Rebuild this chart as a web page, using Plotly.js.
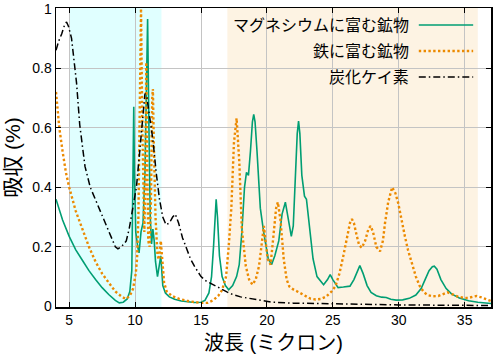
<!DOCTYPE html>
<html>
<head>
<meta charset="utf-8">
<script src="https://cdn.plot.ly/plotly-3.0.1.min.js"></script>
<style>html,body{margin:0;padding:0;background:#fff;}#chart{width:493px;height:358px;}</style>
</head>
<body>
<div id="chart"></div>
<script>
// Series names
const seriesNames = ["マグネシウムに富む鉱物", "鉄に富む鉱物", "炭化ケイ素"];

// Magnesium-rich mineral
const mgX = [4,4.5,5,5.5,6,6.5,7,7.5,8,8.5,8.8,9.1,9.4,9.6,9.75,9.85,9.9,9.95,10.05,10.2,10.3,10.45,10.6,10.75,10.85,10.95,11.05,11.15,11.25,11.35,11.45,11.55,11.7,11.85,11.95,12.1,12.3,12.6,13,13.5,14,14.5,15,15.3,15.6,15.8,15.95,16.05,16.15,16.25,16.4,16.6,16.85,17.1,17.4,17.7,17.9,18.1,18.3,18.45,18.6,18.75,18.9,19.0,19.1,19.25,19.5,19.75,20.1,20.35,20.6,20.9,21.15,21.4,21.6,21.85,22.0,22.15,22.3,22.4,22.5,22.65,22.85,23.0,23.2,23.5,23.8,24.3,24.6,24.8,25.0,25.4,25.8,26.3,26.6,26.85,27.05,27.3,27.6,27.9,28.3,28.7,29.05,29.4,29.8,30.3,30.8,31.3,31.7,32.0,32.3,32.55,32.7,32.9,33.2,33.6,34.0,34.6,35.3,36,37];
const mgY = [0.36,0.29,0.235,0.19,0.155,0.12,0.09,0.063,0.04,0.02,0.012,0.014,0.025,0.05,0.12,0.4,0.67,0.45,0.25,0.2,0.18,0.25,0.28,0.45,0.75,0.965,0.6,0.3,0.21,0.26,0.22,0.15,0.1,0.15,0.17,0.07,0.045,0.032,0.024,0.018,0.015,0.013,0.014,0.02,0.045,0.1,0.2,0.3,0.36,0.3,0.17,0.1,0.07,0.056,0.07,0.1,0.14,0.25,0.4,0.45,0.44,0.52,0.62,0.645,0.62,0.52,0.33,0.25,0.16,0.14,0.17,0.22,0.31,0.35,0.3,0.235,0.27,0.42,0.58,0.622,0.58,0.44,0.37,0.36,0.28,0.16,0.1,0.073,0.09,0.107,0.09,0.063,0.065,0.068,0.09,0.12,0.137,0.11,0.07,0.047,0.036,0.031,0.03,0.024,0.021,0.022,0.027,0.038,0.06,0.09,0.12,0.133,0.135,0.125,0.09,0.06,0.042,0.028,0.019,0.014,0.01];

// Iron-rich mineral
const feX = [4,4.25,4.5,4.75,5,5.5,6,6.5,7,7.5,8,8.5,9,9.3,9.6,9.85,10.05,10.15,10.25,10.35,10.45,10.55,10.65,10.7,10.77,10.85,10.93,11.0,11.1,11.2,11.3,11.35,11.42,11.55,11.7,11.82,11.95,12.05,12.2,12.4,12.8,13.3,14,14.9,15.5,15.9,16.3,16.6,16.9,17.1,17.3,17.5,17.7,17.9,18.1,18.4,18.65,18.9,19.15,19.4,19.6,19.77,19.9,20.05,20.28,20.5,20.7,20.83,21.03,21.28,21.5,21.7,22.0,22.4,22.9,23.3,23.7,24.1,24.5,24.9,25.2,25.5,25.8,26.1,26.3,26.45,26.6,26.8,27.0,27.2,27.45,27.7,27.87,28.05,28.3,28.58,28.8,28.96,29.2,29.5,29.75,29.96,30.2,30.47,30.7,30.97,31.3,31.6,31.9,32.2,32.6,33.0,33.4,33.7,34.1,34.5,34.9,35.25,35.6,35.9,36.3,36.8,37];
const feY = [0.72,0.6,0.52,0.45,0.4,0.32,0.26,0.2,0.15,0.11,0.08,0.05,0.032,0.025,0.035,0.06,0.11,0.16,0.3,0.6,1.0,0.6,0.3,0.25,0.4,0.82,0.45,0.22,0.2,0.35,0.7,0.73,0.55,0.3,0.17,0.157,0.22,0.17,0.08,0.05,0.035,0.026,0.018,0.012,0.012,0.02,0.035,0.055,0.1,0.2,0.33,0.55,0.632,0.49,0.26,0.135,0.09,0.073,0.09,0.135,0.22,0.27,0.22,0.16,0.14,0.24,0.33,0.35,0.29,0.157,0.09,0.067,0.057,0.048,0.035,0.026,0.023,0.025,0.033,0.05,0.068,0.11,0.17,0.235,0.28,0.293,0.28,0.24,0.205,0.197,0.22,0.26,0.27,0.25,0.2,0.185,0.22,0.28,0.35,0.4,0.38,0.347,0.29,0.235,0.19,0.146,0.1,0.068,0.048,0.038,0.034,0.035,0.042,0.047,0.04,0.033,0.029,0.028,0.032,0.035,0.03,0.02,0.018];

// Silicon carbide
const sicX = [4,4.2,4.43,4.65,4.8,4.95,5.18,5.4,5.56,5.8,6.2,6.6,7.07,7.5,7.83,8.2,8.5,8.7,8.95,9.15,9.33,9.55,9.7,9.9,10.1,10.35,10.6,10.75,10.9,11.1,11.35,11.6,11.85,12.1,12.35,12.6,12.85,13.05,13.3,13.6,13.86,14.2,14.5,15,15.4,16,16.4,17,17.4,18,18.6,19.5,20.4,22,25.4,30,37];
const sicY = [0.86,0.89,0.915,0.945,0.955,0.94,0.9,0.82,0.75,0.61,0.47,0.4,0.35,0.31,0.274,0.23,0.2,0.193,0.2,0.21,0.22,0.26,0.3,0.35,0.4,0.52,0.66,0.715,0.7,0.63,0.56,0.45,0.36,0.3,0.274,0.28,0.3,0.31,0.28,0.23,0.2,0.16,0.135,0.1,0.085,0.07,0.062,0.048,0.04,0.032,0.027,0.02,0.014,0.011,0.008,0.005,0.003];

// Axis ticks
const xTicks = [5,10,15,20,25,30,35];
const yTicks = [0,0.2,0.4,0.6,0.8,1];
const yTickLabels = ["0","0.2","0.4","0.6","0.8","1"];

const FONT = "Liberation Sans, Noto Sans CJK JP, sans-serif";
const colors = ["#009e73", "#ec8a00", "#000000"];
const dashes = ["solid", "2.4px,2.4px", "7px,3px,1.5px,3px"];
const widths = [1.6, 2.4, 1.5];

const traces = [
  {x: mgX, y: mgY, name: seriesNames[0], type: "scatter", mode: "lines", line: {color: colors[0], width: widths[0], dash: dashes[0]}},
  {x: feX, y: feY, name: seriesNames[1], type: "scatter", mode: "lines", line: {color: colors[1], width: widths[1], dash: dashes[1]}},
  {x: sicX, y: sicY, name: seriesNames[2], type: "scatter", mode: "lines", line: {color: colors[2], width: widths[2], dash: dashes[2]}}
];

// Legend (drawn manually: text on left, line sample on right)
const legRowsY = [0.943, 0.856, 0.769];
const annotations = seriesNames.map((n, i) => ({
  text: n, xref: "paper", yref: "paper", x: 0.816, y: legRowsY[i],
  xanchor: "right", yanchor: "middle", showarrow: false,
  font: {family: FONT, size: 16, color: "#000"}
}));

const shapes = [
  {type: "rect", xref: "x", yref: "paper", x0: 5, x1: 12, y0: 0, y1: 1, fillcolor: "#e0ffff", line: {width: 0}, layer: "below"},
  {type: "rect", xref: "x", yref: "paper", x0: 17, x1: 36, y0: 0, y1: 1, fillcolor: "#fdf3e3", line: {width: 0}, layer: "below"},
  {type: "rect", xref: "x", yref: "paper", x0: 20.3, x1: 36, y0: 0.735, y1: 0.997, fillcolor: "#fdf3e3", line: {width: 0}, layer: "between"},
  {type: "rect", xref: "x", yref: "paper", x0: 36, x1: 36.9, y0: 0.735, y1: 0.997, fillcolor: "#ffffff", line: {width: 0}, layer: "between"}
];
seriesNames.forEach((n, i) => {
  shapes.push({type: "line", xref: "paper", yref: "paper", x0: 0.834, x1: 0.959, y0: legRowsY[i], y1: legRowsY[i],
    line: {color: colors[i], width: widths[i], dash: dashes[i]}, layer: "above"});
});

const layout = {
  width: 493, height: 358,
  margin: {l: 56, r: 2, t: 8, b: 51},
  paper_bgcolor: "#ffffff", plot_bgcolor: "#ffffff",
  showlegend: false,
  font: {family: FONT, size: 14, color: "#000"},
  xaxis: {
    range: [4, 37], tickvals: xTicks, ticktext: xTicks.map(String),
    showgrid: true, gridcolor: "#c4c4c4", gridwidth: 1,
    zeroline: false, showline: true, linecolor: "#000", linewidth: 1.5, mirror: "ticks",
    ticks: "inside", ticklen: 5, tickcolor: "#000", tickwidth: 1,
    tickfont: {family: FONT, size: 14},
    title: {text: "波長 (ミクロン)", font: {family: FONT, size: 20}, standoff: 8}
  },
  yaxis: {
    range: [-0.002, 1.002], tickvals: yTicks, ticktext: yTickLabels,
    showgrid: true, gridcolor: "#c4c4c4", gridwidth: 1,
    zeroline: false, showline: true, linecolor: "#000", linewidth: 1.5, mirror: "ticks",
    ticks: "inside", ticklen: 5, tickcolor: "#000", tickwidth: 1,
    tickfont: {family: FONT, size: 14},
    title: {text: "吸収 (%)", font: {family: FONT, size: 21}, standoff: 6}
  },
  shapes: shapes,
  annotations: annotations
};

Plotly.newPlot("chart", traces, layout, {displayModeBar: false, staticPlot: true});
</script>
</body>
</html>
